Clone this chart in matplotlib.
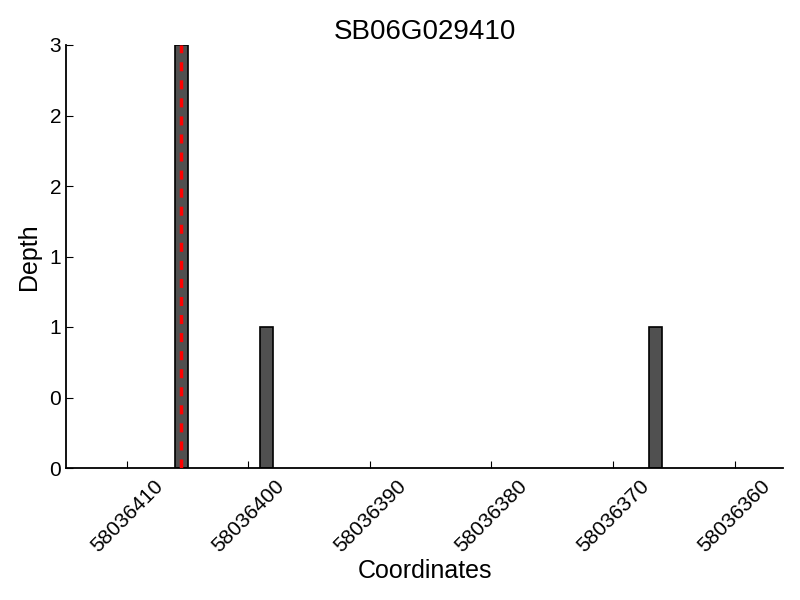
import matplotlib
matplotlib.use("Agg")
import matplotlib.pyplot as plt
from matplotlib.ticker import FormatStrFormatter, MultipleLocator

plt.rcParams['font.family'] = ['Liberation Sans', 'DejaVu Sans']

# data
title = "SB06G029410"
positions = [58036405, 58036398, 58036366]
depths = [3, 1, 1]
marker_pos = 58036405.5
x_ticks = [58036410, 58036400, 58036390, 58036380, 58036370, 58036360]

fig = plt.figure(figsize=(8, 6), dpi=100)
ax = fig.add_axes([0.0825, 0.22, 0.8965, 0.705])

ax.bar(positions, depths, width=1, align='edge', color='#505050',
       edgecolor='black', linewidth=1.2)
ax.vlines(marker_pos, 0, max(depths), colors='red', linestyles=(0, (2.6, 2.6)),
          linewidth=2.5, zorder=3)

ax.set_xlim(58036415, 58036356)
ax.set_ylim(0, 3)
ax.set_xticks(x_ticks)
ax.set_xticklabels([str(t) for t in x_ticks], rotation=45, ha='center')
ax.yaxis.set_major_locator(MultipleLocator(0.5))
ax.yaxis.set_major_formatter(FormatStrFormatter('%d'))

ax.spines['top'].set_visible(False)
ax.spines['right'].set_visible(False)
ax.spines['left'].set_linewidth(1.3)
ax.spines['bottom'].set_linewidth(1.3)
ax.tick_params(direction='in', labelsize=15, length=5)
ax.tick_params(axis='x', pad=6)

ax.set_title(title, fontsize=20, pad=4)
ax.set_xlabel("Coordinates", fontsize=18, labelpad=2)
ax.set_ylabel("Depth", fontsize=18, labelpad=6)

fig.savefig("out.png", dpi=100)
